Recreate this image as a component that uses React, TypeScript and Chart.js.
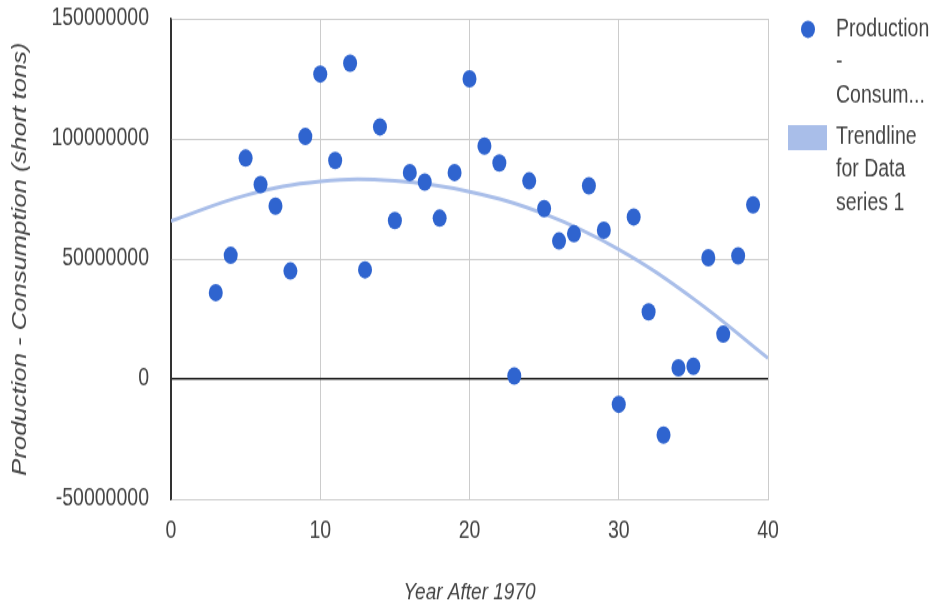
import React, { useEffect, useRef } from 'react';
import { Chart, registerables } from 'chart.js';

Chart.register(...registerables);

// ---- data ----
const years = [3, 4, 5, 6, 7, 8, 9, 10, 11, 12, 13, 14, 15, 16, 17, 18, 19, 20, 21, 22, 23, 24, 25, 26, 27, 28, 29, 30, 31, 32, 33, 34, 35, 36, 37, 38, 39];
const balance = [
  36000000, 51500000, 92000000, 81000000, 72000000, 45000000, 101000000, 127000000, 91000000, 131500000,
  45500000, 105000000, 66000000, 86000000, 82000000, 67000000, 86000000, 125000000, 97000000, 90000000,
  1300000, 82500000, 71000000, 57500000, 60500000, 80500000, 62000000, -10500000, 67500000, 28000000,
  -23300000, 4700000, 5300000, 50500000, 18700000, 51300000, 72500000,
];
const trendYears = [0, 5, 10, 15, 20, 25, 30, 35, 40];
const trendValues = [65800000, 76500000, 82300000, 82500000, 78000000, 68800000, 54000000, 33500000, 8750000];
const xTickValues = [0, 10, 20, 30, 40];
const yTickValues = [-50000000, 0, 50000000, 100000000, 150000000];
const seriesLegendLines = ['Production', '-', 'Consum...'];
const trendLegendLines = ['Trendline', 'for Data', 'series 1'];
const xTitle = 'Year After 1970';
const yTitle = 'Production - Consumption (short tons)';

// ---- styling ----
const W = 933;
const H = 486; // internal drawing height, displayed stretched to 608
const DISPLAY_H = 608;
const FONT = "'Liberation Sans', Arial, sans-serif";
const POINT_COLOR = '#2f64cf';
const TREND_COLOR = '#a9bee9';
const TEXT_COLOR = '#444444';
const GRID_COLOR = '#cccccc';

const legendPlugin = {
  id: 'customLegend',
  afterDraw(chart: any) {
    const ctx = chart.ctx;
    ctx.save();
    // series marker
    ctx.fillStyle = POINT_COLOR;
    ctx.beginPath();
    ctx.arc(808, 23.4, 7, 0, Math.PI * 2);
    ctx.fill();
    // trend swatch
    ctx.fillStyle = TREND_COLOR;
    ctx.fillRect(788, 100, 39, 20);
    ctx.fillStyle = TEXT_COLOR;
    ctx.font = `19.5px ${FONT}`;
    ctx.textAlign = 'left';
    ctx.textBaseline = 'middle';
    const ys1 = [23.4, 49.8, 76.2];
    seriesLegendLines.forEach((t, i) => ctx.fillText(t, 836, ys1[i]));
    const ys2 = [109.5, 135.9, 162.3];
    trendLegendLines.forEach((t, i) => ctx.fillText(t, 836, ys2[i]));
    ctx.restore();
  },
};

export default function App() {
  const canvasRef = useRef<HTMLCanvasElement | null>(null);

  useEffect(() => {
    const canvas = canvasRef.current;
    if (!canvas) return;
    const chart = new Chart(canvas, {
      type: 'scatter',
      data: {
        datasets: [
          {
            label: 'Production - Consumption',
            data: years.map((x, i) => ({ x, y: balance[i] })),
            backgroundColor: POINT_COLOR,
            pointBackgroundColor: POINT_COLOR,
            pointBorderWidth: 0,
            pointRadius: 7,
            order: 0,
          },
          {
            type: 'line',
            label: 'Trendline for Data series 1',
            data: trendYears.map((x, i) => ({ x, y: trendValues[i] })),
            borderColor: TREND_COLOR,
            borderWidth: 3,
            pointRadius: 0,
            tension: 0.4,
            fill: false,
            order: 1,
          } as any,
        ],
      },
      options: {
        responsive: false,
        animation: false,
        devicePixelRatio: 1,
        layout: { padding: { left: 0, top: 15, right: 165, bottom: 0 } },
        plugins: { legend: { display: false }, tooltip: { enabled: false } },
        scales: {
          x: {
            type: 'linear',
            min: 0,
            max: 40,
            afterFit: (s: any) => { s.height = 87; s.paddingLeft = 0; s.paddingRight = 0; },
            afterBuildTicks: (s: any) => { s.ticks = xTickValues.map((v) => ({ value: v })); },
            grid: {
              color: (c: any) => (c.tick && c.tick.value === 0 ? '#333333' : GRID_COLOR),
              lineWidth: 1,
              drawTicks: false,
            },
            border: { display: true, color: GRID_COLOR, width: 1 },
            ticks: {
              padding: 14,
              color: TEXT_COLOR,
              font: { family: FONT, size: 19.5 },
              callback: (v: any) => String(v),
            },
            title: {
              display: true,
              text: xTitle,
              color: TEXT_COLOR,
              font: { family: FONT, size: 19, style: 'italic' },
              padding: { top: 0, bottom: 1 },
            },
          },
          y: {
            type: 'linear',
            min: -50000000,
            max: 150000000,
            afterFit: (s: any) => { s.width = 171; s.paddingTop = 0; s.paddingBottom = 0; },
            afterBuildTicks: (s: any) => { s.ticks = yTickValues.map((v) => ({ value: v })); },
            grid: {
              color: (c: any) => (c.tick && c.tick.value === 0 ? '#222222' : GRID_COLOR),
              lineWidth: (c: any) => (c.tick && c.tick.value === 0 ? 1.6 : 1),
              drawTicks: false,
            },
            border: { display: true, color: '#333333', width: 1.5 },
            ticks: {
              padding: 22,
              color: TEXT_COLOR,
              font: { family: FONT, size: 19.5 },
              callback: (v: any) => String(v),
            },
            title: {
              display: true,
              text: yTitle,
              color: TEXT_COLOR,
              font: { family: FONT, size: 20.5, style: 'italic' },
              padding: { top: 8, bottom: 0 },
            },
          },
        },
      },
      plugins: [legendPlugin],
    });
    return () => chart.destroy();
  }, []);

  return (
    <div style={{ position: 'absolute', left: 0, top: 0, width: W, height: DISPLAY_H, background: '#ffffff' }}>
      <canvas
        ref={canvasRef}
        width={W}
        height={H}
        style={{ display: 'block', width: `${W}px`, height: `${DISPLAY_H}px` }}
      />
    </div>
  );
}
